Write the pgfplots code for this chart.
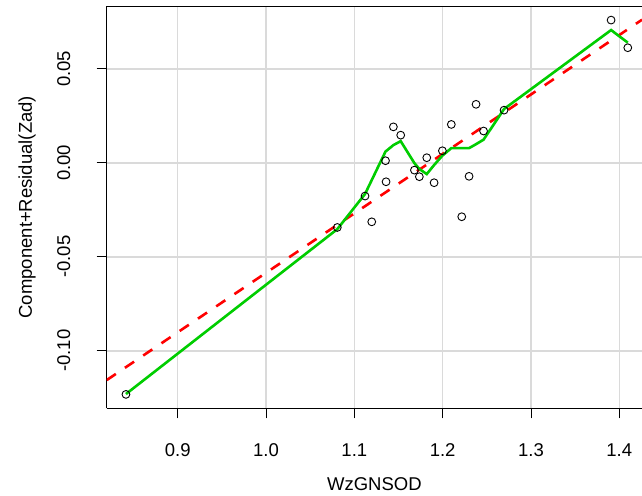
\documentclass[border=0pt]{standalone}
\usepackage{pgfplots}
\pgfplotsset{compat=1.18}
\usepackage{fontspec}
\setmainfont{Liberation Sans}
\definecolor{gridgray}{RGB}{218,218,218}
\definecolor{rgreen}{RGB}{0,205,0}
\newcommand{\rf}{\fontsize{18.5bp}{21bp}\selectfont}
\begin{document}
\begin{tikzpicture}
\begin{axis}[
  at={(0,0)}, anchor=south west, scale only axis,
  width=535.3bp, height=402.3bp,
  xmin=0.8196, xmax=1.4257, ymin=-0.1306, ymax=0.0834,
  axis x line*=bottom, axis y line*=left,
  axis line style={line width=0.9bp, black},
  xtick={0.9,1.0,1.1,1.2,1.3,1.4},
  xticklabels={0.9,1.0,1.1,1.2,1.3,1.4},
  ytick={-0.1,-0.05,0,0.05},
  yticklabels={-0.10,-0.05,0.00,0.05},
  tick align=outside, major tick length=10bp,
  tick style={line width=0.9bp, black},
  grid=major, grid style={gridgray, line width=1.5bp},
  xticklabel style={font=\rf, anchor=center, yshift=-32bp},
  yticklabel style={font=\rf, xshift=-33bp, rotate=90, anchor=center},
  xlabel={WzGNSOD}, ylabel={Component+Residual(Zad)},
  xlabel style={font=\rf, at={(axis description cs:0.5,-0.1889)}, anchor=center},
  ylabel style={font=\rf, at={(axis description cs:-0.1489,0.5)}, anchor=center},
  clip=true,
]
\addplot[only marks, mark=o, mark size=3.9bp, mark options={line width=0.9bp, black}] coordinates {
(0.8414,-0.1232) (1.0807,-0.0344) (1.1121,-0.0177) (1.1197,-0.0314)
(1.1359,-0.0101) (1.1353,0.0011) (1.1442,0.0191) (1.1525,0.0147)
(1.1680,-0.0039) (1.1736,-0.0074) (1.1820,0.0027) (1.1903,-0.0106)
(1.1997,0.0064) (1.2098,0.0204) (1.2299,-0.0072) (1.2216,-0.0287)
(1.2378,0.0311) (1.2463,0.0169) (1.2695,0.0280) (1.3907,0.0759)
(1.4096,0.0612)
};
\addplot[red, line width=2.6bp, dash pattern=on 11bp off 11bp] coordinates {
(0.8196,-0.1156) (1.4257,0.0761)
};
\addplot[rgreen, line width=2.6bp] coordinates {
(0.8414,-0.1230) (1.0807,-0.0353) (1.1121,-0.0166) (1.1197,-0.0092)
(1.1353,0.0060) (1.1359,0.0062) (1.1442,0.0094) (1.1525,0.0115)
(1.1680,-0.0002) (1.1736,-0.0033) (1.1820,-0.0060) (1.1903,-0.0012)
(1.1997,0.0038) (1.2098,0.0078) (1.2216,0.0078) (1.2299,0.0078)
(1.2378,0.0099) (1.2463,0.0123) (1.2695,0.0286) (1.3907,0.0706)
(1.4096,0.0639)
};
\draw[black, line width=0.9bp] (rel axis cs:0,1) -- (rel axis cs:1,1);
\end{axis}
\pgfresetboundingbox
\path[use as bounding box] (-106.7bp,-87.7bp) rectangle (535.3bp,408.3bp);
\end{tikzpicture}
\end{document}
